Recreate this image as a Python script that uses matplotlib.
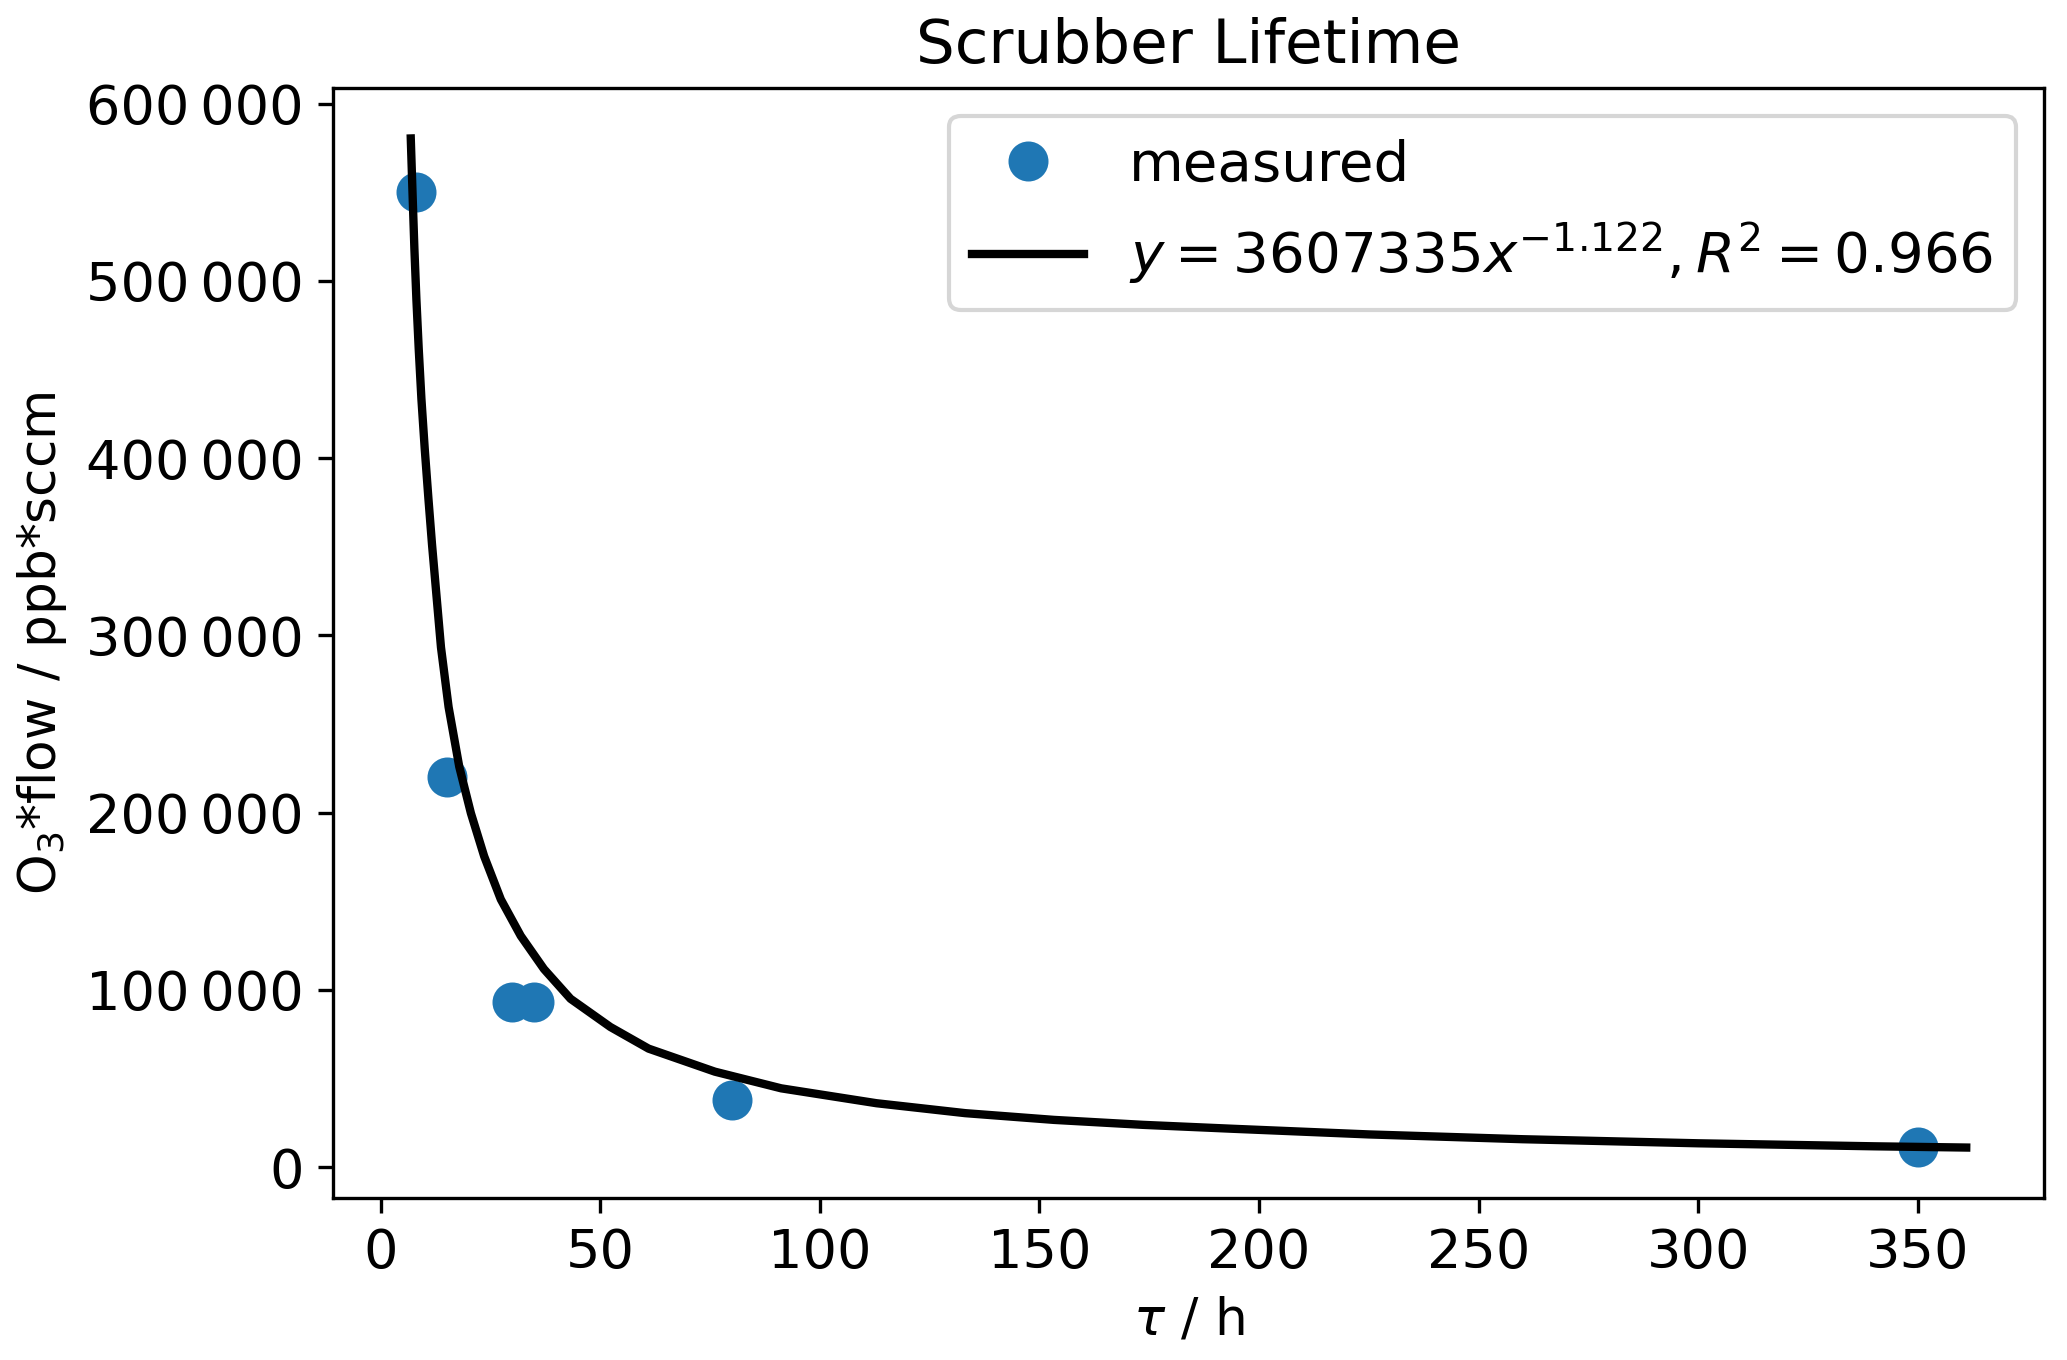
import matplotlib
matplotlib.use("Agg")
import matplotlib.pyplot as plt
from matplotlib.ticker import FuncFormatter

# measured data
tau_h = [8, 15, 30, 35, 80, 350]
o3_flow = [550000, 220000, 93000, 93000, 38000, 11500]

# fitted curve
fit_x = [6.86, 7.31, 7.69, 8.14, 8.67, 9.28, 10.03, 10.87, 11.70, 13.74, 15.47,
         17.90, 20.55, 23.57, 27.36, 31.90, 37.18, 43.24, 52.31, 61.0, 76.1,
         91.2, 112.9, 133.1, 153.3, 173.6, 193.9, 225, 260, 300, 340, 361]
fit_y = [580300, 545700, 517700, 489600, 461600, 433500, 405500, 377400, 351200,
         293200, 259600, 225900, 199700, 175400, 151100, 130500, 111800, 95000,
         79100, 66900, 53900, 44500, 36100, 30500, 26700, 23900, 21700, 18500,
         15800, 13500, 11800, 11100]

x_ticks = [0, 50, 100, 150, 200, 250, 300, 350]
y_ticks = [0, 100000, 200000, 300000, 400000, 500000, 600000]

plt.rcParams['font.size'] = 13
fig = plt.figure(figsize=(2067/300, 1360/300), dpi=300)
ax = fig.add_axes([333/2067, 1 - 1198/1360, (2044-333)/2067, (1198-88)/1360])

ax.plot(tau_h, o3_flow, 'o', color='#1f77b4', markersize=8.6, label='measured')
ax.plot(fit_x, fit_y, '-', color='black', linewidth=2,
        label=r'$y = 3607335x^{-1.122}, R^2 = 0.966$')

ax.set_xticks(x_ticks)
ax.set_yticks(y_ticks)
ax.yaxis.set_major_formatter(FuncFormatter(lambda v, p: f"{v:,.0f}".replace(",", "\u2009")))
ax.set_xlabel(r'$\tau$ / h', fontsize=12.4)
ax.set_ylabel(r'O$_3$*flow / ppb*sccm', fontsize=12.4)
ax.set_title('Scrubber Lifetime', fontsize=14.7)
ax.legend(loc='upper right', fontsize=13.5)

fig.savefig('out.png', dpi=300)
